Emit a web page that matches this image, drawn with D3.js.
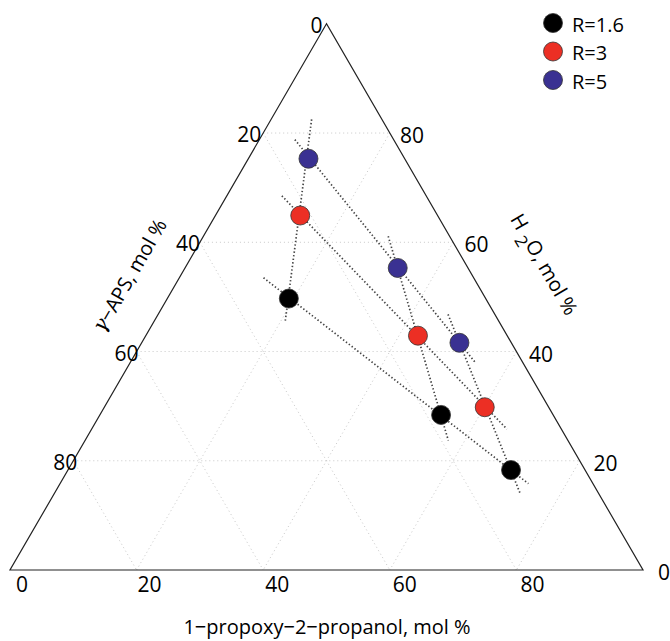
<!DOCTYPE html>
<html>
<head>
<meta charset="utf-8">
<script src="https://cdn.jsdelivr.net/npm/d3@7"></script>
<style>
  body { margin: 0; background: #fff; }
  text { font-family: "Open Sans", "Noto Sans", sans-serif; fill: #000; }
  .tick-label { font-size: 21px; }
  .axis-label { font-size: 20px; }
  .legend-label { font-size: 20px; }
</style>
</head>
<body>
<div id="ternary"></div>
<script>
// DATA (mol %)
const seriesNames = ["R=1.6", "R=3", "R=5"];
const seriesColors = ["#000000", "#ec2f24", "#3a3192"];

const apsValues   = [[31.1, 17.7, 11.7], [21.7, 14.1, 10.1], [15.2, 11.1, 8.2]];
const propValues  = [[19.2, 53.9, 70.0], [13.4, 43.0, 60.1], [9.5, 33.6, 50.2]];
const waterValues = [[49.7, 28.4, 18.3], [64.9, 42.9, 29.8], [75.3, 55.3, 41.6]];

// dotted guide lines: [aps, prop, water] at each end
const rLines = [
    [[33.2, 13.3, 53.5], [10.2, 74.0, 15.8]],   // R=1.6
    [[22.8, 8.7, 68.5], [8.6, 65.6, 25.8]],     // R=3
    [[15.6, 5.6, 78.8], [7.5, 54.5, 38.0]]      // R=5
];
const ratioLines = [
    [[11.1, 6.4, 82.5], [33.9, 20.8, 45.3]],
    [[9.7, 29.2, 61.1], [18.9, 57.4, 23.7]],
    [[7.3, 45.8, 46.8], [12.4, 73.6, 14.0]]
];

const gridValues = [20, 40, 60, 80];
const leftTicks = [0, 20, 40, 60, 80];    // γ-APS
const rightTicks = [80, 60, 40, 20, 0];   // H2O
const bottomTicks = [0, 20, 40, 60, 80];  // 1-propoxy-2-propanol

// 1: SVG
const width = 670, height = 641;
const svg = d3.select("#ternary").append("svg")
    .attr("width", width)
    .attr("height", height);

// 2: SCALES (x from prop + water/2, y from water)
const x = d3.scaleLinear().domain([0, 100]).range([10, 643]);
const y = d3.scaleLinear().domain([0, 100]).range([570, 23.8]);
const px = t => x(t[1] + t[2] / 2);   // t = [aps, prop, water]
const py = t => y(t[2]);

// 3: GRID
const grid = [];
gridValues.forEach(v => {
    grid.push([[100 - v, 0, v], [0, 100 - v, v]]);     // water = v
    grid.push([[v, 0, 100 - v], [v, 100 - v, 0]]);     // aps = v
    grid.push([[0, v, 100 - v], [100 - v, v, 0]]);     // prop = v
});
svg.append("g").selectAll("line")
    .data(grid)
    .enter().append("line")
    .attr("x1", d => px(d[0])).attr("y1", d => py(d[0]))
    .attr("x2", d => px(d[1])).attr("y2", d => py(d[1]))
    .attr("stroke", "#c8c8c8")
    .attr("stroke-width", 1)
    .attr("stroke-dasharray", "1,3");

// 4: TRIANGLE
const corners = [[0, 0, 100], [100, 0, 0], [0, 100, 0]];
svg.append("path")
    .attr("d", d3.line().x(px).y(py)(corners) + "Z")
    .attr("fill", "none")
    .attr("stroke", "#222")
    .attr("stroke-width", 1.2);

// 5: GUIDE LINES
svg.append("g").selectAll("line")
    .data(rLines.concat(ratioLines))
    .enter().append("line")
    .attr("x1", d => px(d[0])).attr("y1", d => py(d[0]))
    .attr("x2", d => px(d[1])).attr("y2", d => py(d[1]))
    .attr("stroke", "#444")
    .attr("stroke-width", 1.7)
    .attr("stroke-dasharray", "1.4,2.2");

// 6: POINTS
const points = [];
seriesNames.forEach((name, i) => {
    apsValues[i].forEach((a, j) => {
        points.push({ s: i, t: [a, propValues[i][j], waterValues[i][j]] });
    });
});
svg.append("g").selectAll("circle")
    .data(points)
    .enter().append("circle")
    .attr("cx", d => px(d.t))
    .attr("cy", d => py(d.t))
    .attr("r", 9.5)
    .attr("fill", d => seriesColors[d.s])
    .attr("stroke", "#333")
    .attr("stroke-width", 0.8);

// 7: TICK LABELS
svg.append("g").selectAll("text")
    .data(leftTicks)
    .enter().append("text")
    .attr("class", "tick-label")
    .attr("text-anchor", "end")
    .attr("dominant-baseline", "central")
    .attr("x", d => px([d, 0, 100 - d]) - 4 + 0.1 * d)
    .attr("y", d => py([d, 0, 100 - d]) + 1)
    .text(d => d);

svg.append("g").selectAll("text")
    .data(rightTicks)
    .enter().append("text")
    .attr("class", "tick-label")
    .attr("text-anchor", "start")
    .attr("dominant-baseline", "central")
    .attr("x", d => px([0, 100 - d, d]) + 9 + 0.06 * (100 - d))
    .attr("y", d => py([0, 100 - d, d]) + 2)
    .text(d => d);

svg.append("g").selectAll("text")
    .data(bottomTicks)
    .enter().append("text")
    .attr("class", "tick-label")
    .attr("text-anchor", "middle")
    .attr("dominant-baseline", "central")
    .attr("x", d => px([100 - d, d, 0]) + 12 + 0.05 * d)
    .attr("y", 584)
    .text(d => d);

// 8: AXIS LABELS
svg.append("text")
    .attr("class", "axis-label")
    .attr("text-anchor", "middle")
    .attr("x", 327)
    .attr("y", 634)
    .text("1\u2212propoxy\u22122\u2212propanol, mol %");

const aps = svg.append("text")
    .attr("class", "axis-label")
    .attr("text-anchor", "middle")
    .attr("dominant-baseline", "central")
    .attr("transform", "translate(129,275) rotate(-60)");
aps.append("tspan")
    .style("font-family", "DejaVu Serif")
    .style("font-style", "italic")
    .text("\u03b3");
aps.append("tspan").text("\u2212APS, mol %");

const h2o = svg.append("text")
    .attr("class", "axis-label")
    .attr("text-anchor", "middle")
    .attr("dominant-baseline", "central")
    .attr("transform", "translate(545,264) rotate(60)");
h2o.append("tspan").text("H ");
h2o.append("tspan").attr("dy", 8).style("font-size", "17px").text("2");
h2o.append("tspan").attr("dy", -8).text("O, mol %");

// 9: LEGEND
const legend = svg.append("g").selectAll("g")
    .data(seriesNames)
    .enter().append("g")
    .attr("transform", (d, i) => `translate(553,${23 + i * 28.5})`);
legend.append("circle")
    .attr("r", 9.5)
    .attr("fill", (d, i) => seriesColors[i])
    .attr("stroke", "#333")
    .attr("stroke-width", 0.8);
legend.append("text")
    .attr("class", "legend-label")
    .attr("x", 19)
    .attr("dominant-baseline", "central")
    .attr("y", 1)
    .text(d => d);
</script>
</body>
</html>
